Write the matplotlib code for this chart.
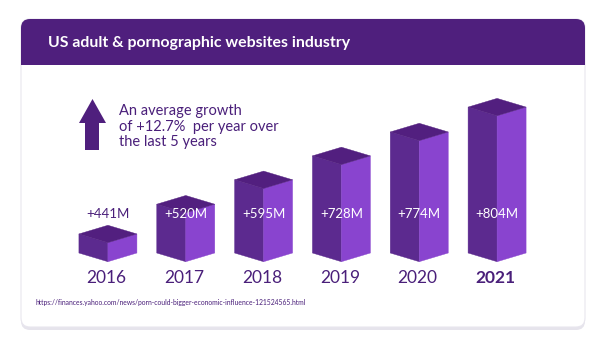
import matplotlib
matplotlib.use("Agg")
import matplotlib.pyplot as plt
from matplotlib.patches import FancyBboxPatch, Polygon, Rectangle

# ---- data ----
years = ["2016", "2017", "2018", "2019", "2020", "2021"]
value_labels = ["+441M", "+520M", "+595M", "+728M", "+774M", "+804M"]
bar_heights = [0.78, 2.0, 3.0, 3.98, 4.96, 5.98]   # visual box heights
title = "US adult & pornographic websites industry"
note = "An average growth\nof +12.7%  per year over\nthe last 5 years"
source = "https://finances.yahoo.com/news/porn-could-bigger-economic-influence-121524565.html"

FONT = ["Lato", "DejaVu Sans"]
plt.rcParams["font.family"] = FONT

W, H = 599, 338
fig = plt.figure(figsize=(W / 100, H / 100), dpi=100)
fig.patch.set_facecolor("white")

# background axes in pixel coordinates
bg = fig.add_axes([0, 0, 1, 1])
bg.set_xlim(0, W)
bg.set_ylim(H, 0)
bg.axis("off")

DARK = "#4f1f7d"
TXT = "#4a1f7a"

# card shadow + card
shadow = FancyBboxPatch((21, 22), 564, 308, boxstyle="round,pad=0,rounding_size=9",
                        fc="#e6e4ec", ec="none", zorder=0)
bg.add_patch(shadow)
card = FancyBboxPatch((21, 19), 564, 308, boxstyle="round,pad=0,rounding_size=9",
                      fc="white", ec="#e8e6ee", lw=0.8, zorder=1)
bg.add_patch(card)
header = FancyBboxPatch((21, 19), 564, 60, boxstyle="round,pad=0,rounding_size=9",
                        fc=DARK, ec="none", zorder=2)
bg.add_patch(header)
clip = Rectangle((0, 0), W, 65, transform=bg.transData)
header.set_clip_path(clip)

bg.text(48, 42.5, title, color="white", fontsize=11.4, fontweight="bold",
        va="center", ha="left", zorder=3)

# arrow
arrow = Polygon([(92.5, 99), (106, 123), (99, 123), (99, 150), (85, 150), (85, 123), (79, 123)],
                closed=True, fc=DARK, ec="none", zorder=3)
bg.add_patch(arrow)
bg.text(119, 126.5, note, color=TXT, fontsize=10.5, va="center", ha="left",
        linespacing=1.17, zorder=3)

bg.text(35, 303, source, color=TXT, fontsize=4.9, va="center", ha="left", zorder=3)

# bar axes
unit = 24.4  # px per height unit
ax_bottom_px, ax_top_px = 270, 90
ax_left_px, ax_right_px = 69, 536
ax = fig.add_axes([ax_left_px / W, 1 - ax_bottom_px / H,
                   (ax_right_px - ax_left_px) / W, (ax_bottom_px - ax_top_px) / H])
ax.axis("off")
ax.set_xlim(-0.5, len(years) - 0.5)
y0 = -(ax_bottom_px - 253) / unit
ax.set_ylim(y0, y0 + (ax_bottom_px - ax_top_px) / unit)

TOP = "#521f7f"
LEFT = "#5c2a8f"
RIGHT = "#8944cf"
hw = 29 / 77.83
d = 8.7 / unit
for i, h in enumerate(bar_heights):
    ax.add_patch(Polygon([(i - hw, 0), (i - hw, h), (i, h - d), (i, -d)],
                         closed=True, fc=LEFT, ec=LEFT, lw=0.3))
    ax.add_patch(Polygon([(i, -d), (i, h - d), (i + hw, h), (i + hw, 0)],
                         closed=True, fc=RIGHT, ec=RIGHT, lw=0.3))
    ax.add_patch(Polygon([(i - hw, h), (i, h - d), (i + hw, h), (i, h + d)],
                         closed=True, fc=TOP, ec=TOP, lw=0.3))
    lab_col = TXT if h < 1.6 + 0.3 else "white"
    ax.text(i, 1.6, value_labels[i], color=lab_col, fontsize=9.5, ha="center", va="center")
    ax.text(i - 0.02, -(278 - 253) / unit, years[i], color=TXT, fontsize=12.5,
            fontweight="bold" if i == len(years) - 1 else "normal",
            ha="center", va="center", clip_on=False)

fig.savefig("out.png", dpi=100)
